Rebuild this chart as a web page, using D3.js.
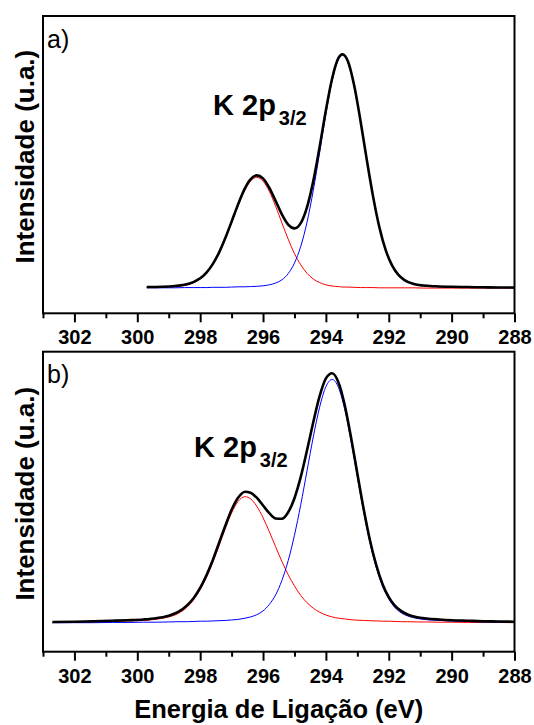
<!DOCTYPE html>
<html>
<head>
<meta charset="utf-8">
<script src="https://cdn.jsdelivr.net/npm/d3@7"></script>
<style>
  body { margin: 0; background: #fff; }
  svg { display: block; }
  text { font-family: "Liberation Sans", Arial, Helvetica, sans-serif; fill: #000; }
</style>
</head>
<body>
<svg id="chart" width="534" height="725"></svg>
<script>
// K 2p3/2 XPS fits: binding energy (eV) and intensity (arbitrary units, background ~100)
// Sample a)
const energyA = [299.7, 299.2, 298.8, 298.5, 298.2, 298.0, 297.8, 297.6, 297.4, 297.2, 297.0, 296.8, 296.6, 296.4, 296.2, 296.0, 295.8, 295.6, 295.4, 295.2, 295.0, 294.8, 294.6, 294.4, 294.2, 294.0, 293.8, 293.6, 293.47, 293.3, 293.1, 292.9, 292.7, 292.5, 292.3, 292.1, 291.9, 291.7, 291.5, 291.2, 290.9, 290.5, 290.0, 289.5, 289.0, 288.5, 288.0];
const redA = [103, 104, 107, 111, 123, 137, 160, 194, 239, 297, 362, 429, 488, 529, 544, 529, 488, 429, 362, 297, 239, 194, 160, 137, 123, 114, 109, 107, 105, 105, 104, 103, 103, 103, 102, 102, 102, 102, 102, 102, 101, 101, 101, 101, 101, 101, 101];
const blueA = [102, 102, 102, 103, 103, 103, 103, 104, 104, 104, 105, 106, 106, 107, 108, 110, 114, 121, 134, 159, 201, 268, 365, 493, 643, 798, 932, 1016, 1032, 1004, 909, 768, 612, 465, 343, 252, 191, 153, 131, 116, 110, 107, 105, 104, 103, 103, 102];
const envelopeA = [105, 106, 109, 114, 126, 140, 163, 197, 243, 301, 367, 434, 494, 536, 552, 540, 502, 450, 396, 355, 340, 361, 425, 530, 666, 813, 941, 1022, 1037, 1009, 912, 771, 615, 468, 345, 254, 193, 155, 133, 117, 111, 108, 106, 105, 104, 103, 103];

// Sample b)
const energyB = [302.7, 302.0, 301.4, 300.8, 300.3, 299.8, 299.4, 299.0, 298.7, 298.4, 298.2, 298.0, 297.8, 297.6, 297.4, 297.2, 297.0, 296.8, 296.57, 296.4, 296.2, 296.0, 295.8, 295.6, 295.4, 295.2, 295.0, 294.8, 294.6, 294.4, 294.2, 294.0, 293.8, 293.6, 293.4, 293.2, 293.0, 292.8, 292.6, 292.4, 292.2, 292.0, 291.8, 291.6, 291.4, 291.1, 290.8, 290.4, 290.0, 289.5, 289.0, 288.5, 288.0];
const redB = [117, 118, 119, 121, 123, 125, 130, 139, 153, 180, 209, 248, 297, 357, 424, 493, 555, 600, 620, 612, 582, 536, 480, 420, 361, 308, 263, 225, 196, 174, 158, 147, 139, 134, 131, 128, 126, 125, 124, 123, 122, 122, 121, 120, 120, 119, 119, 118, 118, 117, 117, 117, 116];
const blueB = [116, 116, 116, 117, 117, 118, 118, 119, 120, 120, 121, 122, 122, 123, 124, 125, 127, 129, 134, 139, 148, 163, 189, 227, 285, 364, 466, 588, 724, 860, 978, 1060, 1089, 1057, 969, 843, 701, 561, 437, 338, 263, 211, 176, 155, 143, 133, 128, 125, 123, 121, 119, 118, 118];
const envelopeB = [119, 120, 122, 124, 126, 129, 134, 144, 159, 187, 216, 255, 306, 366, 435, 504, 568, 615, 640, 636, 616, 585, 554, 533, 532, 558, 614, 699, 806, 919, 1022, 1093, 1114, 1077, 986, 857, 713, 572, 447, 347, 271, 218, 183, 162, 149, 138, 133, 129, 126, 124, 122, 121, 120];

// Axis ticks and texts
const majorTicks = [302, 300, 298, 296, 294, 292, 290, 288];
const minorTicks = [303, 301, 299, 297, 295, 293, 291, 289];
const panelTags = ["a)", "b)"];
const peakName = "K 2p";
const peakSub = "3/2";
const xTitle = "Energia de Ligação (eV)";
const yTitle = "Intensidade (u.a.)";

const svg = d3.select("#chart");
const left = 43, right = 514.5;
const x = d3.scaleLinear().domain([303, 288]).range([left, right]);

const panels = [
  { top: 16, bottom: 313.3, yMax: 1190, e: energyA, red: redA, blue: blueA, env: envelopeA,
    tag: panelTags[0], peakX: 213, peakY: 115 },
  { top: 351.7, bottom: 651.7, yMax: 1200, e: energyB, red: redB, blue: blueB, env: envelopeB,
    tag: panelTags[1], peakX: 194, peakY: 457 }
];

panels.forEach(p => {
  const y = d3.scaleLinear().domain([0, p.yMax]).range([p.bottom, p.top]);
  const g = svg.append("g");

  const line = vals => d3.line()
    .x((d, i) => x(p.e[i]))
    .y(d => y(d))
    .curve(d3.curveMonotoneX)(vals);

  // fitted components, then the envelope on top
  g.append("path").attr("d", line(p.red)).attr("fill", "none")
    .attr("stroke", "#ff0000").attr("stroke-width", 1);
  g.append("path").attr("d", line(p.blue)).attr("fill", "none")
    .attr("stroke", "#0000ff").attr("stroke-width", 1);
  g.append("path").attr("d", line(p.env)).attr("fill", "none")
    .attr("stroke", "#000").attr("stroke-width", 2.6).attr("stroke-linejoin", "round");

  // frame
  g.append("rect").attr("x", left).attr("y", p.top)
    .attr("width", right - left).attr("height", p.bottom - p.top)
    .attr("fill", "none").attr("stroke", "#000").attr("stroke-width", 2);

  // bottom axis: major ticks with labels, minor ticks without
  const major = g.append("g").attr("transform", `translate(0,${p.bottom})`)
    .call(d3.axisBottom(x).tickValues(majorTicks).tickSize(9).tickSizeOuter(0)
      .tickPadding(8).tickFormat(d3.format("d")));
  const minor = g.append("g").attr("transform", `translate(0,${p.bottom})`)
    .call(d3.axisBottom(x).tickValues(minorTicks).tickSize(5).tickSizeOuter(0).tickFormat(""));
  [major, minor].forEach(a => {
    a.select(".domain").remove();
    a.selectAll(".tick line").attr("stroke", "#000").attr("stroke-width", 2);
  });
  major.selectAll(".tick text")
    .style("font-family", '"Liberation Sans", Arial, sans-serif')
    .style("font-size", "20px").style("font-weight", "bold").attr("fill", "#000");

  // panel tag
  g.append("text").attr("x", 47).attr("y", p.top + 31.5)
    .style("font-size", "25px").text(p.tag);

  // peak annotation
  const t = g.append("text").attr("x", p.peakX).attr("y", p.peakY)
    .style("font-size", "29px").style("font-weight", "bold");
  t.append("tspan").text(peakName);
  t.append("tspan").attr("dx", 3).attr("dy", 10).style("font-size", "20px").text(peakSub);

  // y axis title
  g.append("text")
    .attr("transform", `translate(34,${(p.top + p.bottom) / 2 - 8}) rotate(-90)`)
    .attr("text-anchor", "middle")
    .style("font-size", "26px").style("font-weight", "bold").text(yTitle);
});

// x axis title
svg.append("text").attr("x", (left + right) / 2).attr("y", 718)
  .attr("text-anchor", "middle")
  .style("font-size", "25.5px").style("font-weight", "bold").text(xTitle);
</script>
</body>
</html>
